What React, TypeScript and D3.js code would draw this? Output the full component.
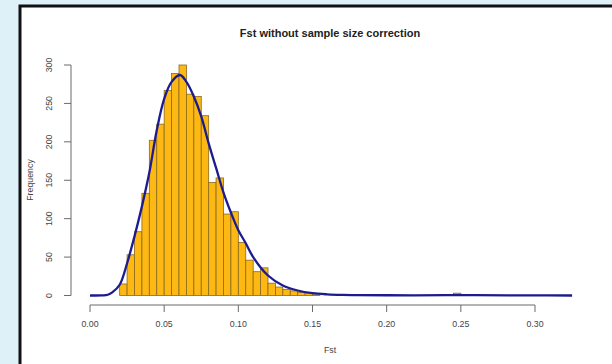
import React from "react";
import * as d3 from "d3";

const binStarts = [
  0.02, 0.025, 0.03, 0.035, 0.04, 0.045, 0.05, 0.055, 0.06, 0.065,
  0.07, 0.075, 0.08, 0.085, 0.09, 0.095, 0.1, 0.105, 0.11, 0.115,
  0.12, 0.125, 0.13, 0.135, 0.14, 0.145, 0.15, 0.245,
];
const binCounts = [
  15, 53, 83, 133, 202, 223, 267, 289, 300, 262,
  259, 234, 147, 153, 106, 109, 69, 46, 31, 36,
  16, 11, 8, 6, 4, 3, 1, 3,
];
const binWidth = 0.005;

const densX = [
  0, 0.008, 0.012, 0.015, 0.02, 0.025, 0.03, 0.035, 0.04, 0.045, 0.05, 0.055,
  0.0607, 0.065, 0.07, 0.075, 0.08, 0.085, 0.09, 0.095, 0.1, 0.105, 0.11, 0.12,
  0.13, 0.14, 0.15, 0.16, 0.17, 0.18, 0.2, 0.24, 0.25, 0.26, 0.3, 0.325,
];
const densY = [
  0, 0.2, 1, 4, 14, 42, 77, 116, 160, 215, 256, 278,
  287, 278, 259, 233, 198, 166, 134, 108, 85, 68, 50, 26,
  13, 6.5, 3, 1.5, 0.8, 0.5, 0.3, 0.4, 0.6, 0.4, 0.2, 0,
];

const xTicks = [0, 0.05, 0.1, 0.15, 0.2, 0.25, 0.3];
const yTicks = [0, 50, 100, 150, 200, 250, 300];

const title = "Fst without sample size correction";
const xLabel = "Fst";
const yLabel = "Frequency";

export default function App() {
  const x = d3.scaleLinear().domain([0, 0.3]).range([90, 535]);
  const y = d3.scaleLinear().domain([0, 300]).range([295.5, 65]);
  const line = d3
    .line<number>()
    .x((_, i) => x(densX[i]))
    .y((d) => y(d))
    .curve(d3.curveCatmullRom.alpha(0.5));

  const font = "'Liberation Sans', Arial, Helvetica, sans-serif";
  const axisCol = "#6b6b6b";
  const textCol = "#444";

  return (
    <svg
      width={612}
      height={364}
      style={{ position: "absolute", left: 0, top: 0 }}
      fontFamily={font}
    >
      <rect x={0} y={0} width={612} height={364} fill="#dff1f8" />
      <rect x={20} y={6} width={600} height={370} fill="#ffffff" stroke="#111" strokeWidth={3} />

      <text x={330} y={36.5} textAnchor="middle" fontSize={11} fontWeight="bold" fill="#222">
        {title}
      </text>

      {binStarts.map((s, i) => (
        <rect
          key={i}
          x={x(s)}
          y={y(binCounts[i])}
          width={x(s + binWidth) - x(s)}
          height={y(0) - y(binCounts[i])}
          fill="#FDB813"
          stroke="#8a6a1c"
          strokeWidth={0.8}
        />
      ))}

      <path d={line(densY) || ""} fill="none" stroke="#1c1c8e" strokeWidth={2.3} />

      {/* x axis */}
      <line x1={x(0)} x2={x(0.3)} y1={305} y2={305} stroke={axisCol} strokeWidth={1} />
      {xTicks.map((t) => (
        <g key={t}>
          <line x1={x(t)} x2={x(t)} y1={305} y2={312} stroke={axisCol} strokeWidth={1} />
          <text x={x(t)} y={327} textAnchor="middle" fontSize={8.8} fill={textCol}>
            {t.toFixed(2)}
          </text>
        </g>
      ))}
      <text x={330} y={353} textAnchor="middle" fontSize={8.8} fill={textCol}>
        {xLabel}
      </text>

      {/* y axis */}
      <line x1={71} x2={71} y1={y(0)} y2={y(300)} stroke={axisCol} strokeWidth={1} />
      {yTicks.map((t) => (
        <g key={t}>
          <line x1={64} x2={71} y1={y(t)} y2={y(t)} stroke={axisCol} strokeWidth={1} />
          <text
            transform={`translate(52,${y(t)}) rotate(-90)`}
            textAnchor="middle"
            fontSize={8.8}
            fill={textCol}
          >
            {t}
          </text>
        </g>
      ))}
      <text
        transform={`translate(33,180) rotate(-90)`}
        textAnchor="middle"
        fontSize={8.8}
        fill={textCol}
      >
        {yLabel}
      </text>
    </svg>
  );
}
